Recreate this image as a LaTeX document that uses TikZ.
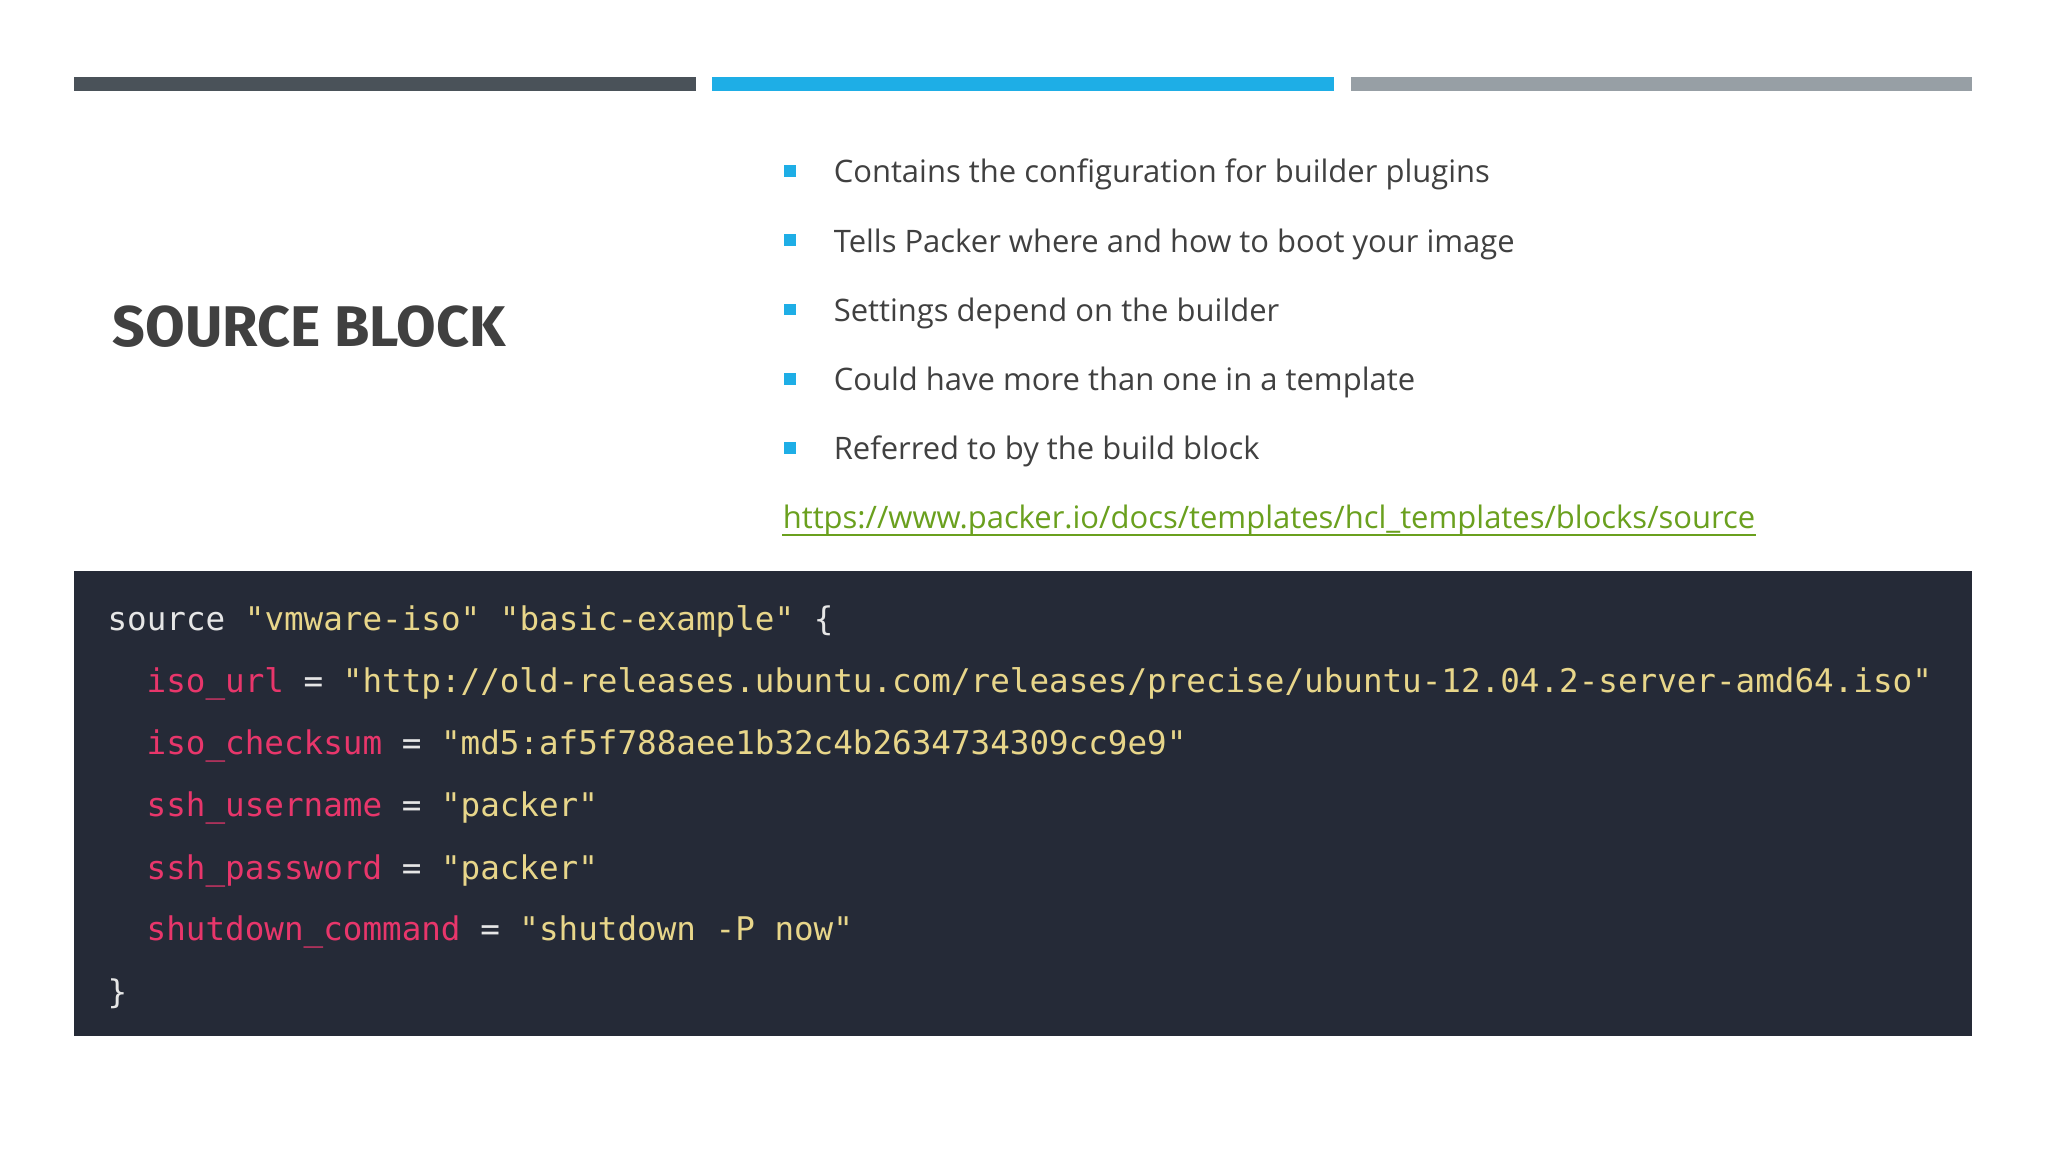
\documentclass[tikz,border=0pt]{standalone}
\usepackage{fontspec}
\setmainfont{Open Sans}
\newfontfamily\titlefont{Fira Sans}
\setmonofont{DejaVu Sans Mono}
\definecolor{barA}{HTML}{4A5259}
\definecolor{barB}{HTML}{1EAEE6}
\definecolor{barC}{HTML}{979FA5}
\definecolor{txt}{HTML}{404040}
\definecolor{lnk}{HTML}{6AA01E}
\definecolor{codebg}{HTML}{252A37}
\definecolor{cw}{HTML}{E6E6E6}
\definecolor{cs}{HTML}{E8D68A}
\definecolor{ck}{HTML}{E8366B}
\tikzset{
 bul/.style={anchor=base west,inner sep=0,font=\fontsize{13.5}{16}\selectfont,text=txt},
 sq/.style={fill=barB,minimum size=0.18cm,inner sep=0},
 code/.style={anchor=base west,inner sep=0,font=\ttfamily\fontsize{14.2}{17}\selectfont}
}
\begin{document}
\begin{tikzpicture}[x=0.02cm,y=-0.02cm]
\useasboundingbox (0,0) rectangle (1568,882);
\fill[white] (0,0) rectangle (1568,882);
\fill[barA] (57,59) rectangle (533,70);
\fill[barB] (545,59) rectangle (1021,70);
\fill[barC] (1034,59) rectangle (1510,70);
\node[anchor=base west,inner sep=0,text=txt,font=\titlefont\bfseries\fontsize{25}{30}\selectfont] (title) at (86,265) {SOURCE BLOCK};
\foreach \t [count=\i] in {Contains the configuration for builder plugins,Tells Packer where and how to boot your image,Settings depend on the builder,Could have more than one in a template,Referred to by the build block}{
 \node[sq] (s\i) at (605,78+53*\i) {};
 \node[bul] (b\i) at (638,87+53*\i) {\t};
}
\node[bul,text=lnk] (link) at (599,405) {https://www.packer.io/docs/templates/hcl\_templates/blocks/source};
\draw[lnk,line width=0.9pt] ([yshift=-2.5pt]link.base west) -- ([yshift=-2.5pt]link.base east);
\fill[codebg] (57,437) rectangle (1510,793);
\node[code] (c1) at (82,483) {\color{cw}source \color{cs}"vmware-iso" "basic-example" \color{cw}\{};
\node[code] (c2) at (112,530) {\color{ck}iso\_url \color{cw}= \color{cs}"http://old-releases.ubuntu.com/releases/precise/ubuntu-12.04.2-server-amd64.iso"};
\node[code] (c3) at (112,578) {\color{ck}iso\_checksum \color{cw}= \color{cs}"md5:af5f788aee1b32c4b2634734309cc9e9"};
\node[code] (c4) at (112,625) {\color{ck}ssh\_username \color{cw}= \color{cs}"packer"};
\node[code] (c5) at (112,673) {\color{ck}ssh\_password \color{cw}= \color{cs}"packer"};
\node[code] (c6) at (112,720) {\color{ck}shutdown\_command \color{cw}= \color{cs}"shutdown -P now"};
\node[code] (c7) at (82,768) {\color{cw}\}};
\end{tikzpicture}
\end{document}
